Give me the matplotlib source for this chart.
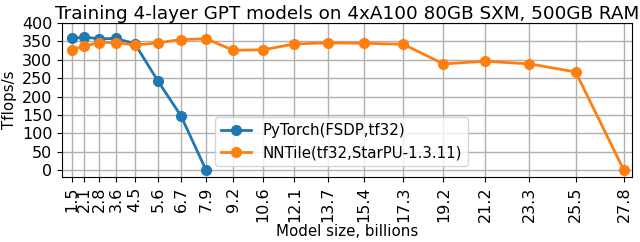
import matplotlib
matplotlib.use("Agg")
import matplotlib.pyplot as plt

# model sizes, billions of parameters
torch_sizes = [1.5, 2.1, 2.8, 3.6, 4.5, 5.6, 6.7, 7.9]
torch_tflops = [358, 362, 357, 358, 344, 243, 148, 0]

nntile_sizes = [1.5, 2.1, 2.8, 3.6, 4.5, 5.6, 6.7, 7.9, 9.2, 10.6, 12.1,
                13.7, 15.4, 17.3, 19.2, 21.2, 23.3, 25.5, 27.8]
nntile_tflops = [327, 337, 347, 347, 340, 346, 355, 357, 326, 327, 343,
                 346, 345, 342, 289, 296, 289, 267, 0]

plt.rcParams['font.size'] = 11.5

fig, ax = plt.subplots(figsize=(6.4, 2.42), dpi=100)

ax.plot(torch_sizes, torch_tflops, marker='o', color='tab:blue', linewidth=2,
        markersize=7, label='PyTorch(FSDP,tf32)')
ax.plot(nntile_sizes, nntile_tflops, marker='o', color='tab:orange', linewidth=2,
        markersize=7, label='NNTile(tf32,StarPU-1.3.11)')

ax.set_xticks(nntile_sizes)
ax.set_xticklabels([str(s) for s in nntile_sizes], rotation=90)
ax.set_xlim(1.04, 28.2)
ax.set_ylim(-18, 400)
ax.set_yticks(range(0, 401, 50))
ax.grid(True, linewidth=1)

ax.set_title("Training 4-layer GPT models on 4xA100 80GB SXM, 500GB RAM",
             fontsize=13.2, pad=2)
ax.set_xlabel("Model size, billions", fontsize=10.8, labelpad=1)
ax.set_ylabel("Tflops/s", fontsize=10.8)
ax.yaxis.set_label_coords(-0.079, 0.5)
ax.legend(loc='center', bbox_to_anchor=(0.49, 0.23), fontsize=10.8)

fig.subplots_adjust(left=0.097, right=0.988, top=0.905, bottom=0.269)
fig.savefig("out.png")
